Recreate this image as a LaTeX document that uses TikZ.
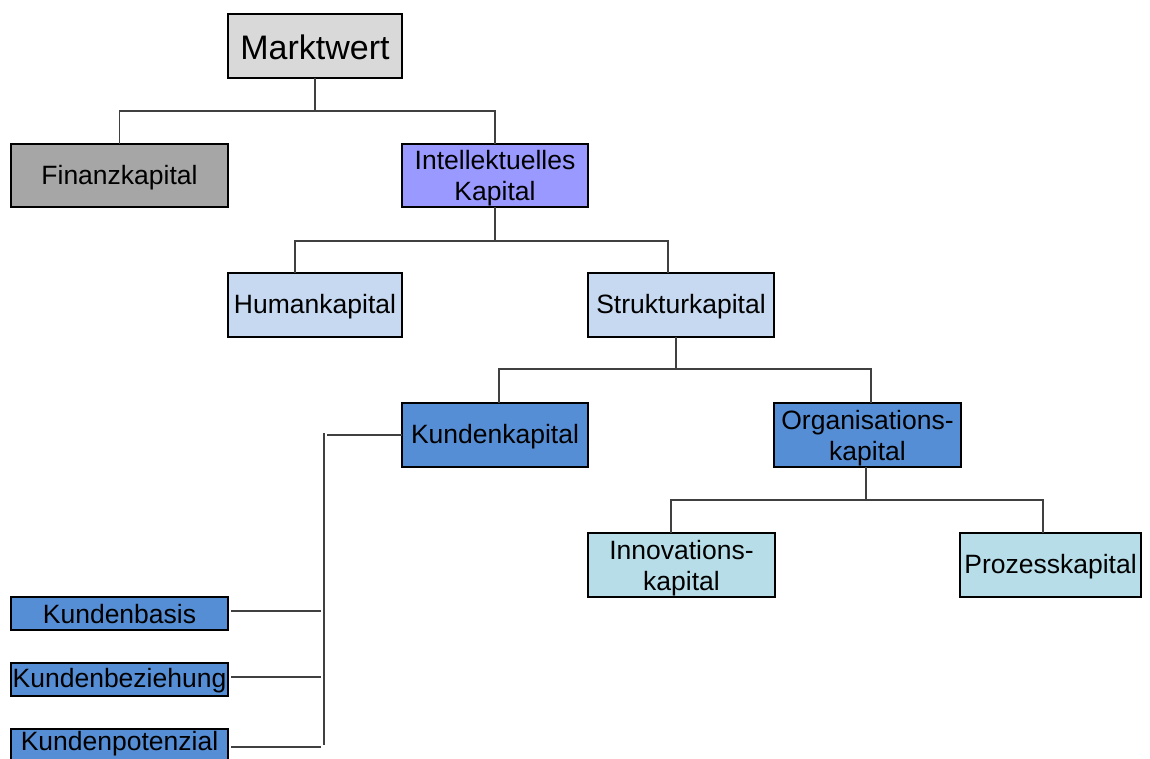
\documentclass[tikz,border=0pt]{standalone}
\usepackage{fontspec}
\setmainfont{Liberation Sans}
\begin{document}
\definecolor{cgray}{HTML}{D9D9D9}
\definecolor{cdark}{HTML}{A6A6A6}
\definecolor{cviolet}{HTML}{9999FF}
\definecolor{cpale}{HTML}{C6D9F1}
\definecolor{cblue}{HTML}{558ED5}
\definecolor{ccyan}{HTML}{B7DDE8}
\definecolor{cline}{HTML}{404040}
\begin{tikzpicture}[x=1pt,y=-1pt,
  box/.style={draw=black,line width=1.2pt,inner sep=0pt,outer sep=0pt},
  lbl/.style={inner sep=0pt,align=center,font=\fontsize{26.5}{31}\selectfont},
  conn/.style={draw=cline,line width=1.7pt}]
\useasboundingbox[fill=white] (0,0) rectangle (1150,758);
% boxes, placed by their corners
\newcommand{\pbox}[6]{%
  \node[box,fill=#2,minimum width=#5-#3,minimum height=#6-#4,anchor=north west]
    (#1) at (#3,#4) {};}
\pbox{mw}{cgray}{228}{14}{402}{78}
\pbox{fk}{cdark}{11}{144}{228}{207}
\pbox{ik}{cviolet}{402}{144}{588}{207}
\pbox{hk}{cpale}{228}{273}{402}{337}
\pbox{sk}{cpale}{588}{273}{774}{337}
\pbox{kk}{cblue}{402}{403}{588}{467}
\pbox{ok}{cblue}{774}{403}{961}{467}
\pbox{ik2}{ccyan}{588}{533}{775}{597}
\pbox{pk}{ccyan}{960}{533}{1141}{597}
\pbox{kb}{cblue}{11}{597}{228}{630}
\pbox{kz}{cblue}{11}{663}{228}{696}
\pbox{kp}{cblue}{11}{729}{228}{770}
% labels (positive yshift moves a label up)
\node[lbl,font=\fontsize{34}{38}\selectfont] at ([yshift=-1pt]mw.center) {Marktwert};
\node[lbl] at ([yshift=-2pt]fk.center) {Finanzkapital};
\node[lbl] at ([yshift=-3pt]ik.center) {Intellektuelles\\Kapital};
\node[lbl] at ([yshift=-2pt]hk.center) {Humankapital};
\node[lbl] at ([yshift=-2pt]sk.center) {Strukturkapital};
\node[lbl] at ([yshift=-2pt]kk.center) {Kundenkapital};
\node[lbl] at ([yshift=-3pt]ok.center) {Organisations-\\kapital};
\node[lbl] at ([yshift=-3pt]ik2.center) {Innovations-\\kapital};
\node[lbl] at ([yshift=-2pt]pk.center) {Prozesskapital};
\node[lbl] at ([yshift=-1pt]kb.center) {Kundenbasis};
\node[lbl] at ([yshift=-1pt]kz.center) {Kundenbeziehung};
\node[lbl] at ([yshift=6pt]kp.center) {Kundenpotenzial};
% tree connectors
\draw[conn] (mw.south) -- ++(0,33) -| (fk.north);
\draw[conn] (mw.south) ++(0,33) -| (ik.north);
\draw[conn] (ik.south) -- ++(0,34) -| (295,273);
\draw[conn] (ik.south) ++(0,34) -| (668,273);
\draw[conn] (676,337) -- (676,369) -| (499,403);
\draw[conn] (676,369) -| (871,403);
\draw[conn] (866,467) -- (866,500) -| (671,533);
\draw[conn] (866,500) -| (1043,533);
% customer-capital bracket
\coordinate (kj) at (327,435);
\draw[conn] (kk.west) -- (kj);
\draw[conn] (324,433) -- (324,745);
\draw[conn] (kb.east) ++(3,-2.5) -- ++(90,0);
\draw[conn] (kz.east) ++(3,-2.5) -- ++(90,0);
\draw[conn] (kp.east) ++(3,-2.5) -- ++(90,0);
\end{tikzpicture}
\end{document}
